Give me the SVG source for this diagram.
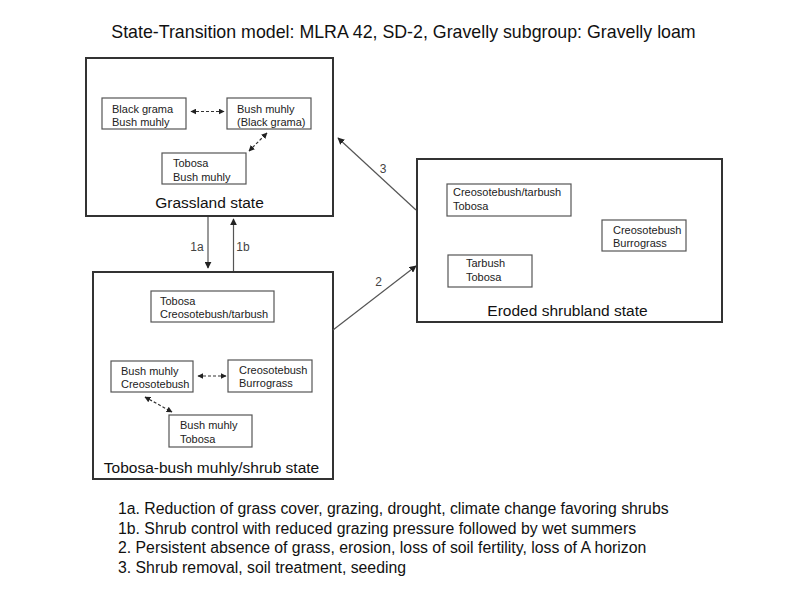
<svg xmlns="http://www.w3.org/2000/svg" width="800" height="600" viewBox="0 0 800 600">
<defs>
<marker id="ah" viewBox="0 0 10 10" refX="9" refY="5" markerWidth="7" markerHeight="7" markerUnits="userSpaceOnUse" orient="auto-start-reverse">
<path d="M0,0 L10,5 L0,10 z" fill="#222"/>
</marker>
<marker id="ad" viewBox="0 0 10 10" refX="9" refY="5" markerWidth="6" markerHeight="6" markerUnits="userSpaceOnUse" orient="auto-start-reverse">
<path d="M0,0 L10,5 L0,10 z" fill="#222"/>
</marker>
</defs>
<style>
text{font-family:"Liberation Sans",Arial,sans-serif;fill:#111}
.state{fill:#fff;stroke:#333;stroke-width:2}
.box{fill:#fff;stroke:#555;stroke-width:1.2}
.t{font-size:11px;fill:#222}
.lbl{font-size:15.5px;text-anchor:middle}
.title{font-size:17.8px}
.note{font-size:15.8px}
.tr{stroke:#555;stroke-width:1.2;fill:none;marker-end:url(#ah)}
.dash{stroke:#333;stroke-width:1.2;stroke-dasharray:3,2;fill:none;marker-start:url(#ad);marker-end:url(#ad)}
.num{font-size:12px;fill:#444;text-anchor:middle}
</style>
<rect width="800" height="600" fill="#fff"/>
<text class="title" x="403.5" y="38" text-anchor="middle">State-Transition model: MLRA 42, SD-2, Gravelly subgroup: Gravelly loam</text>

<g id="grassland">
<rect class="state" x="86" y="58" width="247" height="158"/>
<rect class="box" x="102" y="98" width="84" height="31"/>
<text class="t" x="112" y="112.5">Black grama</text>
<text class="t" x="112" y="125.5">Bush muhly</text>
<rect class="box" x="227" y="98" width="84" height="31"/>
<text class="t" x="237" y="112.5">Bush muhly</text>
<text class="t" x="237" y="125.5">(Black grama)</text>
<rect class="box" x="162" y="153" width="84" height="31"/>
<text class="t" x="173" y="167">Tobosa</text>
<text class="t" x="173" y="180.5">Bush muhly</text>
<line class="dash" x1="191" y1="111.5" x2="224" y2="111.5"/>
<line class="dash" x1="249" y1="151" x2="267" y2="133"/>
<text class="lbl" x="209.5" y="208">Grassland state</text>
</g>

<g id="tobosa-shrub">
<rect class="state" x="93" y="272" width="240" height="207"/>
<rect class="box" x="151" y="291" width="123" height="31"/>
<text class="t" x="160" y="304.5">Tobosa</text>
<text class="t" x="160" y="317.5">Creosotebush/tarbush</text>
<rect class="box" x="111" y="361" width="82" height="31"/>
<text class="t" x="121" y="375">Bush muhly</text>
<text class="t" x="121" y="388">Creosotebush</text>
<rect class="box" x="228" y="360" width="84" height="32"/>
<text class="t" x="239" y="373.5">Creosotebush</text>
<text class="t" x="239" y="386.5">Burrograss</text>
<rect class="box" x="169" y="415" width="83" height="32"/>
<text class="t" x="180" y="428.5">Bush muhly</text>
<text class="t" x="180" y="442.5">Tobosa</text>
<line class="dash" x1="198" y1="376" x2="226" y2="376"/>
<line class="dash" x1="145" y1="397" x2="172" y2="412"/>
<text class="lbl" x="211.5" y="473">Tobosa-bush muhly/shrub state</text>
</g>

<g id="eroded">
<rect class="state" x="417" y="159" width="305" height="163"/>
<rect class="box" x="447" y="184" width="124" height="32"/>
<text class="t" x="453" y="196">Creosotebush/tarbush</text>
<text class="t" x="453" y="209.5">Tobosa</text>
<rect class="box" x="602" y="220" width="84" height="31"/>
<text class="t" x="613" y="233.5">Creosotebush</text>
<text class="t" x="613" y="246.5">Burrograss</text>
<rect class="box" x="448" y="255" width="84" height="32"/>
<text class="t" x="466" y="267">Tarbush</text>
<text class="t" x="466" y="280.5">Tobosa</text>
<text class="lbl" x="567.5" y="316">Eroded shrubland state</text>
</g>

<g id="connectors">
<line class="tr" x1="208" y1="217" x2="208" y2="268"/>
<line class="tr" x1="233.5" y1="271" x2="233.5" y2="219"/>
<line class="tr" x1="416" y1="210" x2="338" y2="138"/>
<line class="tr" x1="333" y1="330" x2="416" y2="266"/>
<text class="num" x="197" y="251">1a</text>
<text class="num" x="243" y="251">1b</text>
<text class="num" x="383" y="173">3</text>
<text class="num" x="378.5" y="286">2</text>
</g>

<g id="legend">
<text class="note" x="118" y="514">1a. Reduction of grass cover, grazing, drought, climate change favoring shrubs</text>
<text class="note" x="118" y="533.5">1b. Shrub control with reduced grazing pressure followed by wet summers</text>
<text class="note" x="118" y="553">2. Persistent absence of grass, erosion, loss of soil fertility, loss of A horizon</text>
<text class="note" x="118" y="572.5">3. Shrub removal, soil treatment, seeding</text>
</g>
</svg>
